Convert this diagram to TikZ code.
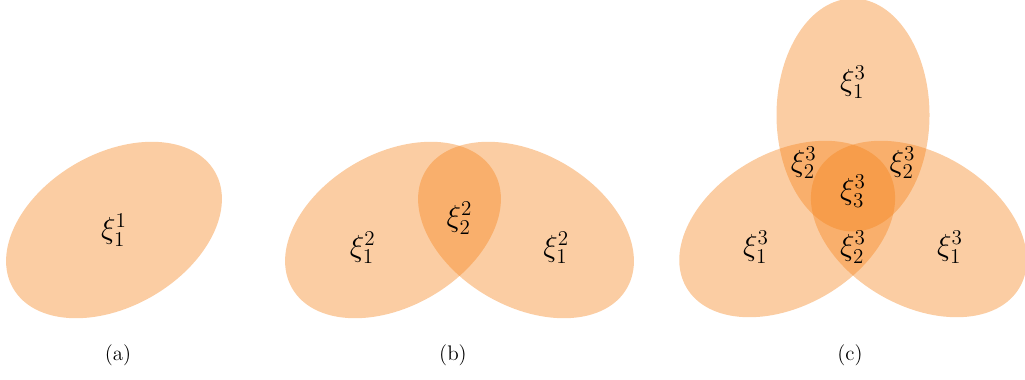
\documentclass[tikz,border=0pt]{standalone}
\usepackage{amsmath}
\usepackage{tikz}
\usetikzlibrary{
  shapes.geometric,
  positioning,
  calc
}
\usepackage{xcolor}
\definecolor{setorange}{RGB}{245, 130, 25}
\tikzset{
  blob/.style={
    ellipse, draw=none, fill=setorange, fill opacity=0.4,
    minimum width=4.66cm, minimum height=3.06cm, inner sep=0pt
  },
  setlabel/.style={
    font=\LARGE, inner sep=0pt
  },
  caption/.style={
    font=\large, inner sep=1pt
  },
}

\begin{document}
\begin{tikzpicture}

\useasboundingbox (0,0) rectangle (20.5,7.58);

% ── (a) one set ───────────────────────────────────────────────────────────────
\node[blob, rotate=30] (a1) at (2.28,2.98) {};
\node[setlabel] (la1) at (a1.center) {$\xi_1^1$};

% ── (b) two sets ──────────────────────────────────────────────────────────────
\coordinate (b0) at (9.19,3.22);
\node[blob, rotate=30]  (b1) at (7.86,2.98)  {};
\node[blob, rotate=-30] (b2) at (10.52,2.98) {};

\node[setlabel] (lb1) at ($(b1.center)+(210:0.7)$) {$\xi_1^2$};
\node[setlabel] (lb2) at ($(b2.center)+(-30:0.7)$) {$\xi_1^2$};
\node[setlabel] (lb12) at (b0) {$\xi_2^2$};

% ── (c) three sets ────────────────────────────────────────────────────────────
\coordinate (c0) at (17.06,3.76);
\node[blob, rotate=90]  (c1) at ($(c0)+(90:1.52)$)  {};
\node[blob, rotate=30]  (c2) at ($(c0)+(210:1.52)$) {};
\node[blob, rotate=-30] (c3) at ($(c0)+(-30:1.52)$) {};

\node[setlabel] (lc1) at ($(c1.center)+(90:0.66)$)  {$\xi_1^3$};
\node[setlabel] (lc2) at ($(c2.center)+(210:0.72)$) {$\xi_1^3$};
\node[setlabel] (lc3) at ($(c3.center)+(-30:0.72)$) {$\xi_1^3$};
\node[setlabel] (lc12) at ($(c0)+(150:1.14)$) {$\xi_2^3$};
\node[setlabel] (lc13) at ($(c0)+(30:1.14)$)  {$\xi_2^3$};
\node[setlabel] (lc23) at ($(c0)+(270:1.12)$) {$\xi_2^3$};
\node[setlabel] (lc123) at (c0) {$\xi_3^3$};

% ── Captions ──────────────────────────────────────────────────────────────────
\node[caption] (capa) at (2.36,0.48)  {(a)};
\node[caption] (capb) at (9.06,0.48)  {(b)};
\node[caption] (capc) at (17.0,0.48) {(c)};

\end{tikzpicture}
\end{document}
